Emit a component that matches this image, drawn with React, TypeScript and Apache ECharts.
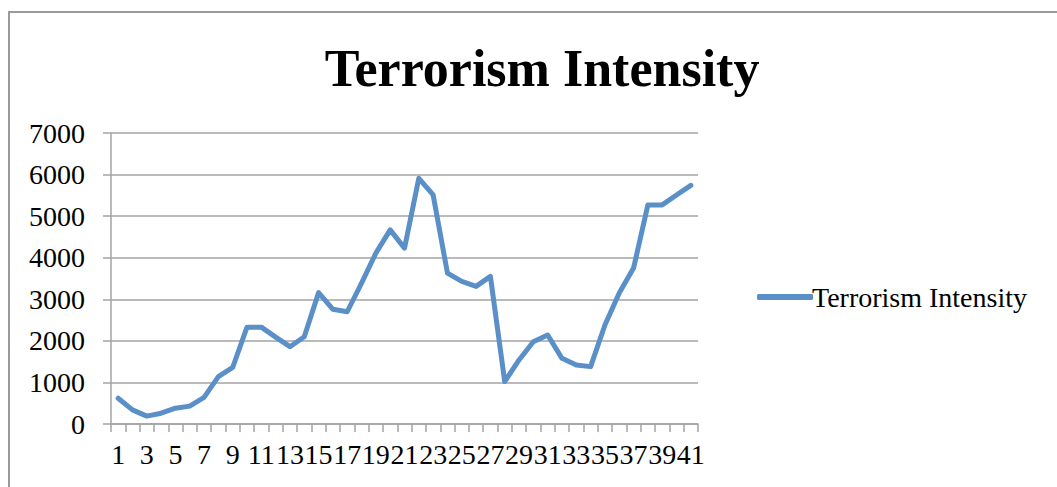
import React, { useEffect, useRef } from "react";
import * as echarts from "echarts";

const categories: string[] = Array.from({ length: 41 }, (_, i) => String(i + 1));
const intensity: number[] = [
  620, 340, 190, 260, 380, 430, 640, 1140, 1360, 2330,
  2330, 2090, 1860, 2100, 3160, 2760, 2700, 3390, 4110, 4670,
  4230, 5910, 5510, 3630, 3430, 3310, 3550, 1020, 1540, 1980,
  2140, 1580, 1420, 1380, 2380, 3150, 3750, 5270, 5270, 5510,
  5740,
];
const seriesName = "Terrorism Intensity";
const titleText = "Terrorism Intensity";

const FONT = "'Liberation Serif', 'Times New Roman', serif";
const GRID_COLOR = "#a3a3a3";
const LINE_COLOR = "#5a8fc8";

export default function App() {
  const ref = useRef<HTMLDivElement>(null);
  useEffect(() => {
    if (!ref.current) return;
    const chart = echarts.init(ref.current, undefined, { renderer: "svg" });
    chart.setOption({
      animation: false,
      backgroundColor: "#ffffff",
      title: {
        text: titleText,
        left: 537,
        textAlign: "center",
        top: 37,
        textStyle: { fontFamily: FONT, fontSize: 52, fontWeight: "bold", color: "#000" },
      },
      graphic: [
        {
          type: "rect",
          shape: { x: 9, y: 12, width: 1100, height: 520 },
          style: { fill: "none", stroke: "#9a9a9a", lineWidth: 2 },
          silent: true,
        },
      ],
      legend: {
        orient: "vertical",
        left: 752,
        top: 278,
        icon: "roundRect",
        itemWidth: 56,
        itemHeight: 6,
        itemGap: 10,
        itemStyle: { color: LINE_COLOR },
        textStyle: { fontFamily: FONT, fontSize: 28, color: "#000", padding: [0, 0, 0, -6] },
        data: [seriesName],
      },
      grid: { left: 111, right: 359, top: 133, bottom: 63, containLabel: false },
      xAxis: {
        type: "category",
        data: categories,
        boundaryGap: true,
        axisLine: { show: true, lineStyle: { color: GRID_COLOR, width: 1.5 } },
        axisTick: { show: true, interval: 0, length: 8, lineStyle: { color: GRID_COLOR, width: 1.5 } },
        axisLabel: {
          interval: 1,
          margin: 16,
          hideOverlap: false,
          fontFamily: FONT,
          fontSize: 28,
          color: "#000",
        },
        splitLine: { show: false },
      },
      yAxis: {
        type: "value",
        min: 0,
        max: 7000,
        interval: 1000,
        axisLine: { show: true, lineStyle: { color: GRID_COLOR, width: 1.5 } },
        axisTick: { show: true, length: 8, lineStyle: { color: GRID_COLOR, width: 1.5 } },
        axisLabel: {
          margin: 26,
          fontFamily: FONT,
          fontSize: 28,
          color: "#000",
          formatter: (v: number) => String(v),
        },
        splitLine: { show: true, lineStyle: { color: GRID_COLOR, width: 1.5 } },
      },
      series: [
        {
          name: seriesName,
          type: "line",
          data: intensity,
          symbol: "none",
          showSymbol: false,
          lineStyle: { color: LINE_COLOR, width: 5, cap: "round", join: "round" },
          itemStyle: { color: LINE_COLOR },
        },
      ],
    });
    return () => chart.dispose();
  }, []);
  return (
    <div
      ref={ref}
      style={{ position: "fixed", left: 0, top: 0, width: 1057, height: 487, background: "#fff" }}
    />
  );
}
